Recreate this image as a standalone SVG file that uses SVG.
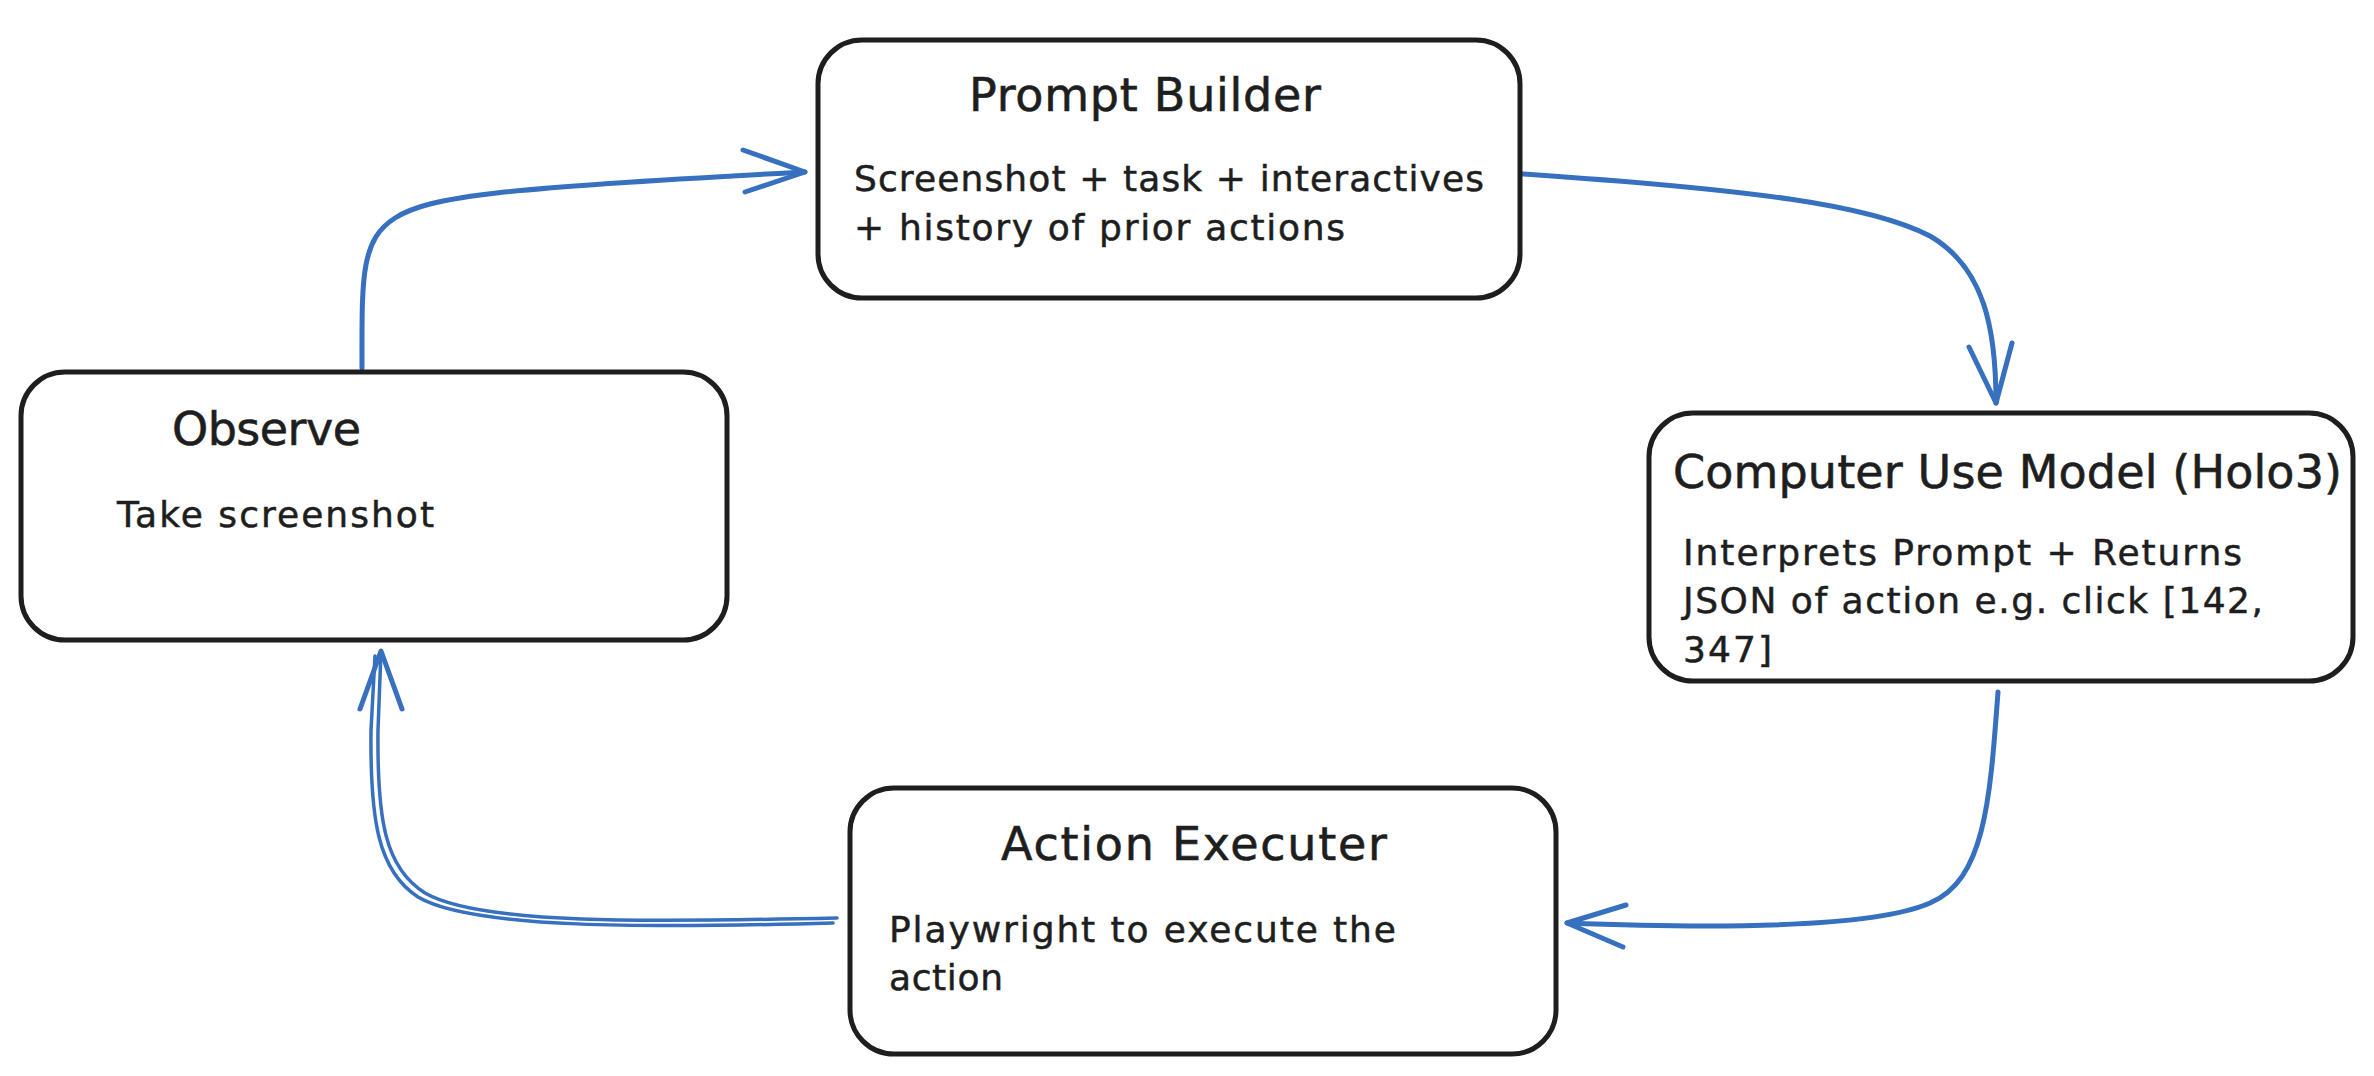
<svg xmlns="http://www.w3.org/2000/svg" width="2374" height="1076" viewBox="0 0 2374 1076">
<style>
.box{fill:#ffffff;stroke:#1e1e1e;stroke-width:5}
.t{font-family:"DejaVu Sans","Liberation Sans",sans-serif;font-size:46px;fill:#1e1e1e;stroke:#1e1e1e;stroke-width:0.6}
.b{font-family:"DejaVu Sans","Liberation Sans",sans-serif;font-size:36px;fill:#1e1e1e;stroke:#1e1e1e;stroke-width:0.5}
.c{fill:none;stroke:#3670bf;stroke-width:5;stroke-linecap:round;stroke-linejoin:round}
.c2{fill:none;stroke:#3670bf;stroke-width:3.5;stroke-linecap:round;stroke-linejoin:round}
</style>
<rect width="2374" height="1076" fill="#ffffff"/>
<g id="connectors">
  <g id="observe-to-prompt">
    <path class="c" d="M362,368 C362,280 360,240 395,218 C430,196 500,188 805,172"/>
    <path class="c" d="M743,150 L805,172 L745,192"/>
  </g>
  <g id="prompt-to-model">
    <path class="c" d="M1509,173 C1760,190 1870,205 1930,236 C1985,268 1996,330 1996,403"/>
    <path class="c" d="M1969,347 L1996,403 L2012,343"/>
  </g>
  <g id="model-to-executer">
    <path class="c" d="M1998,692 C1990,800 1985,880 1930,903 C1880,925 1750,930 1567,923"/>
    <path class="c" d="M1626,905 L1567,923 L1623,947"/>
  </g>
  <g id="executer-to-observe">
    <path class="c2" d="M837,918 C650,922 480,925 425,893 C385,868 377,820 378,730 L381,651"/>
    <path class="c2" d="M833,923 C650,928 472,929 418,897 C378,871 370,820 371,730 L375,656"/>
    <path class="c" d="M360,709 L381,651 L402,709"/>
  </g>
</g>
<g id="node-prompt-builder">
  <rect class="box" x="818" y="40" width="702" height="258" rx="44"/>
  <text class="t" x="969" y="111" textLength="352">Prompt Builder</text>
  <text class="b" x="854" y="191" textLength="630">Screenshot + task + interactives</text>
  <text class="b" x="854" y="240" textLength="491">+ history of prior actions</text>
</g>
<g id="node-observe">
  <rect class="box" x="21" y="372" width="706" height="268" rx="44"/>
  <text class="t" x="172" y="445" textLength="189">Observe</text>
  <text class="b" x="117" y="527" textLength="317">Take screenshot</text>
</g>
<g id="node-computer-use-model">
  <rect class="box" x="1649" y="413" width="704" height="268" rx="44"/>
  <text class="t" x="1673" y="488" textLength="669">Computer Use Model (Holo3)</text>
  <text class="b" x="1683" y="565" textLength="559">Interprets Prompt + Returns</text>
  <text class="b" x="1683" y="613" textLength="580">JSON of action e.g. click [142,</text>
  <text class="b" x="1683" y="662" textLength="89">347]</text>
</g>
<g id="node-action-executer">
  <rect class="box" x="850" y="788" width="706" height="266" rx="44"/>
  <text class="t" x="1001" y="860" textLength="386">Action Executer</text>
  <text class="b" x="889" y="942" textLength="507">Playwright to execute the</text>
  <text class="b" x="889" y="990" textLength="114">action</text>
</g>
</svg>
